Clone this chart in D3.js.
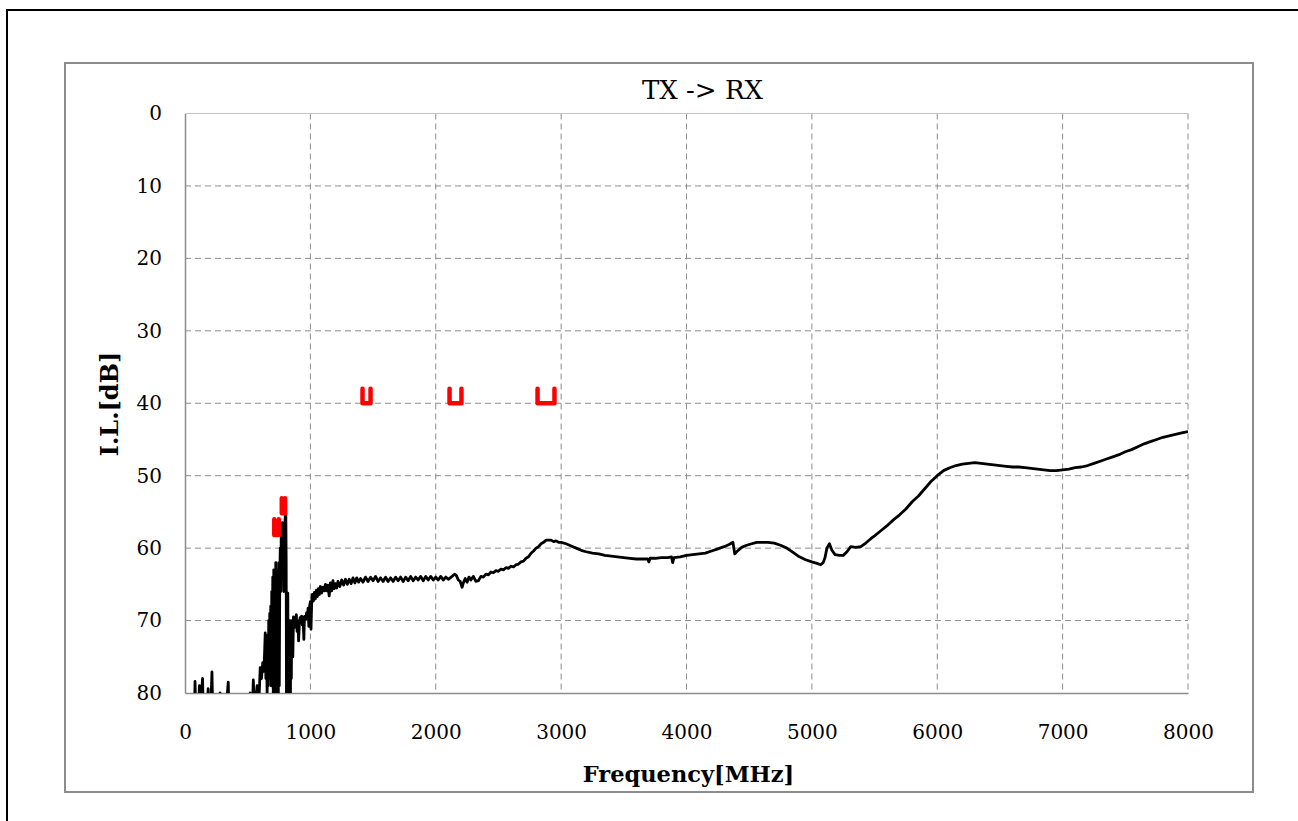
<!DOCTYPE html>
<html>
<head>
<meta charset="utf-8">
<script src="https://cdn.jsdelivr.net/npm/d3@7"></script>
<style>
  body { margin: 0; background: #fff; }
  svg { display: block; }
</style>
</head>
<body>
<svg id="vis"></svg>
<script>
// x ticks / y ticks
var freqTicks = [0, 1000, 2000, 3000, 4000, 5000, 6000, 7000, 8000];
var dbTicks = [0, 10, 20, 30, 40, 50, 60, 70, 80];

// measured curve, [MHz, dB]  (values > 80 fall off the bottom of the plot)
var lowBand = [
  [30,85],[70,88],[80,78.4],[90,86],[105,84],[115,79],[125,82],[140,78],[150,86],
  [170,84],[185,79.4],[195,88],[215,77.1],[225,86],[250,85],[280,80],[290,86],
  [320,84],[345,78.5],[355,87],[400,86],[450,88],[500,85],[520,80],[530,86],
  [545,78.2],[555,83],[575,79],[590,81],[600,76.5],[610,78],[620,75.8],[630,77],
  [640,71.7],[645,78],[650,74],[655,80],[660,72],[664,79],[668,70],[672,78],
  [676,69],[680,76],[684,68],[688,79],[692,66],[696,75],[700,64],[704,80],
  [708,63],[712,82],[716,64],[720,81],[724,62],[728,80],[732,66],[736,83],
  [740,63],[744,82],[748,62],[752,79],[756,64],[760,60],[764,66],[768,57],
  [772,63],[776,56.5],[780,64],[784,58],[788,66],[792,60],[796,57],[800,55.5],
  [804,55.2],[807,62],[810,85],[813,70],[816,86],[820,66.2],[824,85],[828,72],
  [832,86],[836,70],[840,84],[844,70.5],[848,78],[852,70],[856,73],[860,75],
  [865,69.5],[870,71],[876,69.8],[882,70.5],[888,69.2],[894,71.5],[900,70],
  [906,72.8],[912,70.5],[918,69.6],[924,70.2],[930,69.4],[936,70.6],[942,69.5],
  [948,72.6],[952,70],[958,69.4],[964,69.8],[970,68.9],[976,69.4],[982,68.3],
  [988,70.8],[994,68],[1000,67.4],[1005,71.2],[1010,67.8],[1016,66.4],[1024,67.3],
  [1032,66.1],[1040,67],[1048,65.8],[1056,66.7],[1064,65.6],[1072,66.4],
  [1080,65.3],[1090,66.2],[1100,65.4],[1110,65.9],[1120,65],[1130,65.9],
  [1140,65.1],[1150,66.6],[1160,64.8],[1170,65.9],[1180,64.5],[1190,65.6]
];

var midBand = [
  [1200,64.9],[1210,65.5],[1220,64.6],[1235,65.3],[1250,64.4],[1265,65.1],
  [1280,64.3],[1295,65.0],[1310,64.3],[1325,64.9],[1340,64.1],[1355,64.8],
  [1370,64.1],[1385,64.7],[1400,64.2],[1420,64.7],[1440,64.0],[1460,64.6],
  [1480,64.0],[1500,64.5],[1520,63.9],[1540,64.6],[1560,64.1],[1580,64.6],
  [1600,64.0],[1620,64.6],[1640,64.1],[1660,64.6],[1680,64.0],[1700,64.5],
  [1720,64.0],[1740,64.6],[1760,64.0],[1780,64.5],[1800,63.9],[1820,64.5],
  [1840,64.0],[1860,64.4],[1880,63.9],[1900,64.5],[1920,63.9],[1940,64.4],
  [1960,63.9],[1980,64.4],[2000,64.0],[2020,64.4],[2040,63.9],[2060,64.4],
  [2080,64.0],[2100,64.3],[2130,63.9],[2150,63.6],[2165,63.8],[2180,64.4],
  [2195,64.6],[2210,65.4],[2220,64.8],[2235,64.2],[2250,64.7],[2265,64.0],
  [2280,64.4],[2300,63.9],[2320,64.6],[2340,64.5],[2360,63.9],[2380,64.0],
  [2400,63.6],[2420,63.7],[2440,63.3],[2460,63.4],[2480,63.1],[2500,63.2],
  [2520,62.9],[2540,63.0],[2560,62.7],[2580,62.8],[2600,62.5],[2620,62.6],
  [2640,62.3],[2660,62.2],[2680,61.9],[2700,61.8],[2720,61.4],[2740,61.2],
  [2760,60.7],[2780,60.4],[2800,60.0],[2820,59.8],[2840,59.4],[2860,59.2],
  [2880,58.9],[2900,58.9],[2920,58.9],[2940,59.1],[2960,59.0],[2980,59.2],
  [3000,59.2],[3040,59.4],[3080,59.7],[3120,60.0],[3160,60.3],[3200,60.5],
  [3250,60.7],[3300,60.8],[3350,61.0],[3400,61.1],[3450,61.2],[3500,61.3],
  [3550,61.4],[3600,61.5],[3650,61.5],[3690,61.5],[3700,61.9],[3710,61.4],
  [3750,61.4],[3800,61.3],[3850,61.3],[3880,61.2],[3890,62.0],[3900,61.3],
  [3950,61.2],[4000,61.0],[4050,60.9],[4100,60.8],[4150,60.7],[4200,60.4],
  [4250,60.1],[4300,59.8],[4340,59.5],[4370,59.2],[4385,60.8],[4400,60.5],
  [4440,59.9],[4480,59.6],[4520,59.4],[4560,59.2],[4600,59.2],[4650,59.2],
  [4700,59.3],[4750,59.6],[4800,60.0],[4850,60.6],[4900,61.2],[4950,61.6],
  [5000,61.9],[5040,62.1],[5070,62.3],[5090,62.0],[5105,61.3],[5120,60.0],
  [5140,59.4],[5160,60.3],[5185,60.9],[5220,61.0],[5250,61.0],[5280,60.5],
  [5310,59.8],[5350,59.9],[5390,59.8]
];

var highBand = [
  [5430,59.3],[5470,58.7],[5500,58.3],[5550,57.6],[5600,56.9],[5650,56.1],
  [5700,55.4],[5750,54.6],[5800,53.6],[5850,52.8],[5900,51.8],[5950,50.8],
  [6000,50.0],[6050,49.3],[6100,48.9],[6150,48.6],[6200,48.4],[6250,48.3],
  [6300,48.2],[6350,48.3],[6400,48.4],[6450,48.5],[6500,48.6],[6550,48.7],
  [6600,48.8],[6650,48.8],[6700,48.9],[6750,49.0],[6800,49.1],[6850,49.2],
  [6900,49.3],[6950,49.3],[7000,49.2],[7050,49.1],[7100,48.9],[7150,48.8],
  [7200,48.6],[7250,48.3],[7300,48.0],[7350,47.7],[7400,47.4],[7450,47.1],
  [7500,46.7],[7550,46.4],[7600,46.0],[7650,45.6],[7700,45.3],[7750,45.0],
  [7800,44.7],[7850,44.5],[7900,44.3],[7950,44.1],[8000,43.9]
];

// spec masks (red brackets): from MHz, to MHz, top dB, bottom dB
var maskFrom = [712, 772, 1416, 2110, 2812];
var maskTo   = [748, 798, 1480, 2205, 2947];
var maskTop  = [56.0, 53.1, 38.0, 38.0, 38.0];
var maskBot  = [58.2, 55.2, 40.0, 40.0, 40.0];

var allPts = lowBand.concat(midBand, highBand);

var width = 1298, height = 821;
var plotL = 185, plotR = 1188, plotT = 113.5, plotB = 693;

var svg = d3.select("#vis").attr("width", width).attr("height", height);

// outer frames
svg.append("rect").attr("x", 7).attr("y", 10).attr("width", 1300).attr("height", 820)
  .attr("fill", "none").attr("stroke", "#000").attr("stroke-width", 2);
svg.append("rect").attr("x", 65).attr("y", 63).attr("width", 1188).attr("height", 729)
  .attr("fill", "#fff").attr("stroke", "#8c8c8c").attr("stroke-width", 2);

var x = d3.scaleLinear().domain([0, 8000]).range([plotL, plotR]);
var y = d3.scaleLinear().domain([0, 80]).range([plotT, plotB]);

var serif = "'DejaVu Serif', serif";

// grid
svg.append("g").selectAll("line")
  .data(dbTicks.filter(function(d){ return d > 0 && d < 80; }))
  .enter().append("line")
  .attr("x1", plotL).attr("x2", plotR)
  .attr("y1", function(d){ return y(d); }).attr("y2", function(d){ return y(d); })
  .attr("stroke", "#8c8c8c").attr("stroke-dasharray", "6,4");
svg.append("g").selectAll("line")
  .data(freqTicks.filter(function(d){ return d > 0; }))
  .enter().append("line")
  .attr("y1", plotT).attr("y2", plotB)
  .attr("x1", function(d){ return x(d); }).attr("x2", function(d){ return x(d); })
  .attr("stroke", "#8c8c8c").attr("stroke-dasharray", "6,4");
svg.append("line").attr("x1", plotL).attr("x2", plotR).attr("y1", plotT).attr("y2", plotT)
  .attr("stroke", "#c4c4c4");

// axes
var yAxis = svg.append("g").attr("transform", "translate(" + plotL + ",0)")
  .call(d3.axisLeft(y).tickValues(dbTicks).tickSize(0).tickPadding(23));
var xAxis = svg.append("g").attr("transform", "translate(0," + plotB + ")")
  .call(d3.axisBottom(x).tickValues(freqTicks).tickSize(0).tickPadding(32)
        .tickFormat(d3.format("d")));
[yAxis, xAxis].forEach(function(a){
  a.select(".domain").attr("stroke", "#8c8c8c").attr("stroke-width", 1.5);
  a.selectAll("text").attr("font-family", serif).attr("font-size", "20px").attr("fill", "#000");
});

// curve
svg.append("clipPath").attr("id", "plotClip").append("rect")
  .attr("x", plotL).attr("y", plotT).attr("width", plotR - plotL).attr("height", plotB - plotT);

var line = d3.line().x(function(d){ return x(d[0]); }).y(function(d){ return y(d[1]); });
svg.append("path").datum(allPts)
  .attr("clip-path", "url(#plotClip)")
  .attr("d", line)
  .attr("fill", "none").attr("stroke", "#000").attr("stroke-width", 2.8)
  .attr("stroke-linejoin", "round");

// red masks
svg.append("g").selectAll("path")
  .data(maskFrom)
  .enter().append("path")
  .attr("d", function(d, i){
    return "M" + x(maskFrom[i]) + "," + y(maskTop[i]) +
           "L" + x(maskFrom[i]) + "," + y(maskBot[i]) +
           "L" + x(maskTo[i]) + "," + y(maskBot[i]) +
           "L" + x(maskTo[i]) + "," + y(maskTop[i]);
  })
  .attr("fill", "none").attr("stroke", "#ff0000").attr("stroke-width", 4.5)
  .attr("stroke-linejoin", "round").attr("stroke-linecap", "round");

// titles
svg.append("text").attr("x", (plotL + plotR) / 2 + 16).attr("y", 99)
  .attr("text-anchor", "middle").attr("font-family", serif).attr("font-size", "26px")
  .text("TX -> RX");
svg.append("text").attr("x", (plotL + plotR) / 2 + 2).attr("y", 782)
  .attr("text-anchor", "middle").attr("font-family", serif).attr("font-size", "22.5px")
  .attr("font-weight", "bold").text("Frequency[MHz]");
svg.append("text").attr("transform", "translate(118,404) rotate(-90)")
  .attr("text-anchor", "middle").attr("font-family", serif).attr("font-size", "24px")
  .attr("font-weight", "bold").text("I.L.[dB]");
</script>
</body>
</html>
